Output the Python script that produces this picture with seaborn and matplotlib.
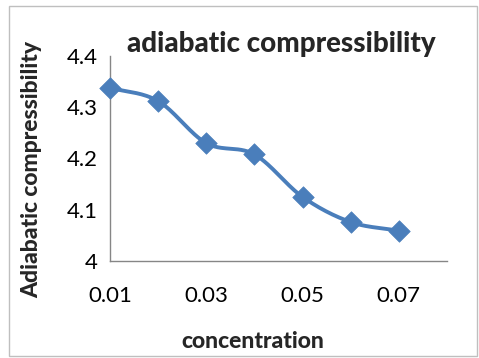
import numpy as np
import pandas as pd
import matplotlib
matplotlib.use("Agg")
import matplotlib.pyplot as plt
import seaborn as sns

concentration = [0.01, 0.02, 0.03, 0.04, 0.05, 0.06, 0.07]
compressibility = [4.338, 4.312, 4.230, 4.208, 4.125, 4.076, 4.059]
x_ticks = [0.01, 0.03, 0.05, 0.07]
x_tick_labels = ["0.01", "0.03", "0.05", "0.07"]
y_ticks = [4.0, 4.1, 4.2, 4.3, 4.4]
y_tick_labels = ["4", "4.1", "4.2", "4.3", "4.4"]

sns.set_style("white")
plt.rcParams['font.family'] = ['Lato', 'DejaVu Sans']

df = pd.DataFrame({"concentration": concentration, "compressibility": compressibility})

# Catmull-Rom smoothing of the line (Excel-like smoothed line)
def smooth(xs, ys, n=30):
    xs = np.asarray(xs, float); ys = np.asarray(ys, float)
    px = np.concatenate([[2*xs[0]-xs[1]], xs, [2*xs[-1]-xs[-2]]])
    py = np.concatenate([[2*ys[0]-ys[1]], ys, [2*ys[-1]-ys[-2]]])
    ox, oy = [], []
    t = np.linspace(0, 1, n)
    for i in range(1, len(px)-2):
        p0, p1, p2, p3 = [np.array([px[j], py[j]]) for j in range(i-1, i+3)]
        c1 = p1 + (p2 - p0) / 6
        c2 = p2 - (p3 - p1) / 6
        pts = ((1-t)**3)[:, None]*p1 + (3*(1-t)**2*t)[:, None]*c1 + (3*(1-t)*t**2)[:, None]*c2 + (t**3)[:, None]*p2
        ox.extend(pts[:, 0]); oy.extend(pts[:, 1])
    return np.array(ox), np.array(oy)

sx, sy = smooth(concentration, compressibility)
smooth_df = pd.DataFrame({"x": sx, "y": sy})

fig = plt.figure(figsize=(4.79, 3.58), dpi=100)
ax = fig.add_axes([110/479, 1-261/358, (447-110)/479, (261-56)/358])

color = "#4A7EBB"
sns.lineplot(data=smooth_df, x="x", y="y", ax=ax, color=color, linewidth=2.8, sort=False, estimator=None)
sns.scatterplot(data=df, x="concentration", y="compressibility", ax=ax, color=color,
                marker="D", s=120, edgecolor=color, linewidth=0.5, zorder=5, clip_on=False)

ax.set_xlim(0.01, 0.08)
ax.set_ylim(4.0, 4.4)
ax.set_xticks(x_ticks)
ax.set_xticklabels(x_tick_labels)
ax.set_yticks(y_ticks)
ax.set_yticklabels(y_tick_labels)
for s in ["top", "right"]:
    ax.spines[s].set_visible(False)
for s in ["left", "bottom"]:
    ax.spines[s].set_color("#868686")
    ax.spines[s].set_linewidth(1.0)
ax.tick_params(axis="both", direction="out", length=4, color="#868686", labelsize=16, labelcolor="black", pad=5)
ax.tick_params(axis="x", pad=14)

ax.set_xlabel("")
ax.set_ylabel("")
fig.text(281/479, 1-52/358, "adiabatic compressibility", ha="center", va="baseline",
         fontsize=20, fontweight="black")
fig.text(253/479, 1-341/358, "concentration", ha="center", va="center",
         fontsize=16.5, fontweight="black")
fig.text(32/479, 1-170/358, "Adiabatic compressibility", ha="center", va="center",
         rotation=90, fontsize=16.5, fontweight="black")

fig.patches.append(plt.Rectangle((9/479, 1-356/358), 468/479, 350/358, transform=fig.transFigure,
                                 fill=False, edgecolor="#BFBFBF", linewidth=1.0))

fig.savefig("out.png", dpi=100)
